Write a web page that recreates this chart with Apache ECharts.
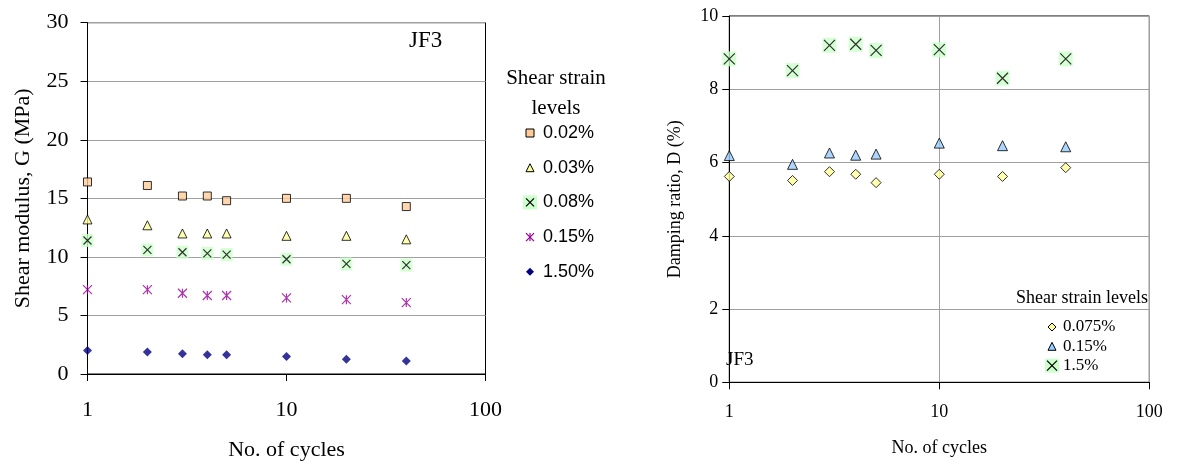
<!DOCTYPE html>
<html>
<head>
<meta charset="utf-8">
<script src="https://cdn.jsdelivr.net/npm/echarts@6/dist/echarts.min.js"></script>
<style>
  html, body { margin: 0; padding: 0; background: #fff; }
  #chart { width: 1185px; height: 466px; }
</style>
</head>
<body>
<div id="chart"></div>
<script>
// Number of loading cycles (log scale)
const cycles = [1, 2, 3, 4, 5, 10, 20, 40];

// Shear modulus G (MPa) per shear strain level, sample JF3
const gStrain002 = [16.4, 16.1, 15.2, 15.2, 14.8, 15.0, 15.0, 14.3];
const gStrain003 = [13.2, 12.7, 12.0, 12.0, 12.0, 11.8, 11.8, 11.5];
const gStrain008 = [11.4, 10.6, 10.4, 10.3, 10.2, 9.8, 9.4, 9.3];
const gStrain015 = [7.2, 7.2, 6.9, 6.7, 6.7, 6.5, 6.35, 6.1];
const gStrain150 = [2.0, 1.87, 1.73, 1.65, 1.65, 1.5, 1.25, 1.1];

// Damping ratio D (%) per shear strain level, sample JF3
const dStrain0075 = [5.62, 5.51, 5.75, 5.68, 5.45, 5.68, 5.62, 5.86];
const dStrain015 = [6.19, 5.95, 6.26, 6.2, 6.23, 6.53, 6.46, 6.43];
const dStrain15 = [8.83, 8.51, 9.2, 9.23, 9.06, 9.08, 8.3, 8.83];

// Axis ticks
const gTicks = { min: 0, max: 30, interval: 5 };
const dTicks = { min: 0, max: 10, interval: 2 };

// Legend labels
const gLegend = ['0.02%', '0.03%', '0.08%', '0.15%', '1.50%'];
const dLegend = ['0.075%', '0.15%', '1.5%'];

const SERIF = '"Liberation Serif", "Times New Roman", serif';
const SANS = '"Liberation Sans", Arial, sans-serif';
const C = {
  peach: '#FFCC99', yellow: '#FFFF99', green: '#CCFFCC',
  purple: '#990099', navy: '#000080', blue: '#99CCFF', grid: '#A0A0A0'
};
const X_PATH = 'path://M0,0L10,10M10,0L0,10';
const STAR_PATH = 'path://M0,0L10,10M10,0L0,10M5,0L5,10';

const pts = ys => cycles.map((c, i) => [c, ys[i]]);

function scatter(gi, data, symbol, size, style) {
  return {
    type: 'scatter', xAxisIndex: gi, yAxisIndex: gi, data: pts(data),
    symbol: symbol, symbolSize: size, itemStyle: style, silent: true,
    emphasis: { disabled: true }, z: 3
  };
}
const xMark = { color: 'transparent', borderColor: '#000', borderWidth: 1.2 };

function xAxis(gi, fs, labelGap, nameGap, vSplit) {
  return {
    type: 'log', logBase: 10, min: 1, max: 100, gridIndex: gi,
    name: 'No. of cycles', nameLocation: 'middle', nameGap: nameGap,
    nameTextStyle: { fontFamily: SERIF, fontSize: fs, color: '#000', verticalAlign: 'middle' },
    axisLine: { show: true, onZero: false, lineStyle: { color: '#000', width: 1 } },
    axisTick: { show: true, length: 7, lineStyle: { color: '#000' } },
    minorTick: { show: false },
    axisLabel: { fontFamily: SERIF, fontSize: fs, color: '#000', margin: labelGap, verticalAlign: 'middle' },
    splitLine: { show: vSplit, lineStyle: { color: C.grid, width: 1 } },
    minorSplitLine: { show: false }
  };
}
function yAxis(gi, ticks, name, fs, labelGap, nameGap) {
  return {
    type: 'value', gridIndex: gi, min: ticks.min, max: ticks.max, interval: ticks.interval,
    name: name, nameLocation: 'middle', nameGap: nameGap, nameRotate: 90,
    nameTextStyle: { fontFamily: SERIF, fontSize: fs, color: '#000', verticalAlign: 'middle' },
    axisLine: { show: true, lineStyle: { color: '#000', width: 1 } },
    axisTick: { show: true, length: 7, lineStyle: { color: '#000' } },
    axisLabel: { fontFamily: SERIF, fontSize: fs, color: '#000', margin: labelGap },
    splitLine: { show: true, lineStyle: { color: C.grid, width: 1 } }
  };
}

// Legend glyphs drawn as graphic shapes
function glyph(kind, cx, cy, s, bg) {
  const h = s / 2, out = [];
  if (bg) out.push({ type: 'rect', shape: { x: cx - bg[0] / 2, y: cy - bg[1] / 2, width: bg[0], height: bg[1] }, style: { fill: C.green } });
  if (kind === 'square') out.push({ type: 'rect', shape: { x: cx - h, y: cy - h, width: s, height: s }, style: { fill: C.peach, stroke: '#000', lineWidth: 1 } });
  if (kind === 'triangle') out.push({ type: 'polygon', shape: { points: [[cx, cy - h], [cx + h, cy + h], [cx - h, cy + h]] }, style: { fill: bg === 'blue' ? C.blue : C.yellow, stroke: '#000', lineWidth: 1 } });
  if (kind === 'triangleBlue') out.push({ type: 'polygon', shape: { points: [[cx, cy - h], [cx + h, cy + h], [cx - h, cy + h]] }, style: { fill: C.blue, stroke: '#000', lineWidth: 1 } });
  if (kind === 'diamond') out.push({ type: 'polygon', shape: { points: [[cx, cy - h], [cx + h, cy], [cx, cy + h], [cx - h, cy]] }, style: { fill: C.navy } });
  if (kind === 'diamondYellow') out.push({ type: 'polygon', shape: { points: [[cx, cy - h], [cx + h, cy], [cx, cy + h], [cx - h, cy]] }, style: { fill: C.yellow, stroke: '#000', lineWidth: 1 } });
  if (kind === 'x' || kind === 'star') {
    out.push({ type: 'line', shape: { x1: cx - h, y1: cy - h, x2: cx + h, y2: cy + h }, style: { stroke: kind === 'x' ? '#000' : C.purple, lineWidth: 1.2 } });
    out.push({ type: 'line', shape: { x1: cx + h, y1: cy - h, x2: cx - h, y2: cy + h }, style: { stroke: kind === 'x' ? '#000' : C.purple, lineWidth: 1.2 } });
    if (kind === 'star') out.push({ type: 'line', shape: { x1: cx, y1: cy - h, x2: cx, y2: cy + h }, style: { stroke: C.purple, lineWidth: 1.2 } });
  }
  return out;
}
function label(text, x, y, fs, family, align) {
  return { type: 'text', x: x, y: y, style: { text: text, fontFamily: family, fontSize: fs, fill: '#000', align: align || 'left', verticalAlign: 'middle' } };
}

const graphics = [];
// Left legend
graphics.push(label('Shear strain', 556, 78, 21, SERIF, 'center'));
graphics.push(label('levels', 556, 108, 21, SERIF, 'center'));
const gKinds = ['square', 'triangle', 'x', 'star', 'diamond'];
gKinds.forEach((k, i) => {
  const y = 133 + i * 34.7;
  graphics.push(...glyph(k, 530, y, 8, k === 'x' ? [14, 14] : null));
  graphics.push(label(gLegend[i], 543, y, 18, SANS));
});
graphics.push(label('JF3', 409, 41, 23, SERIF));
// Right legend
graphics.push(label('Shear strain levels', 1016, 298, 18, SERIF));
const dKinds = ['diamondYellow', 'triangleBlue', 'x'];
dKinds.forEach((k, i) => {
  const y = 327 + i * 19.3;
  graphics.push(...glyph(k, 1052, y, k === 'x' ? 10 : 8, k === 'x' ? [14, 14] : null));
  graphics.push(label(dLegend[i], 1063, y, 17, SERIF));
});
graphics.push(label('JF3', 726, 360, 19, SERIF));

const option = {
  animation: false,
  backgroundColor: '#fff',
  grid: [
    { left: 87.5, top: 22.7, width: 398, height: 353, show: true, borderColor: '#000', borderWidth: 1, backgroundColor: 'transparent' },
    { left: 729.3, top: 16, width: 420, height: 366.3, show: true, borderColor: '#000', borderWidth: 1, backgroundColor: 'transparent' }
  ],
  xAxis: [
    xAxis(0, 22, 36, 76, false),
    xAxis(1, 18, 30, 66, true)
  ],
  yAxis: [
    yAxis(0, gTicks, 'Shear modulus, G (MPa)', 22, 19, 64.5),
    yAxis(1, dTicks, 'Damping ratio, D (%)', 18, 11, 54)
  ],
  series: [
    scatter(0, gStrain002, 'rect', 8, { color: C.peach, borderColor: '#000', borderWidth: 1 }),
    scatter(0, gStrain003, 'triangle', 9, { color: C.yellow, borderColor: '#000', borderWidth: 1 }),
    scatter(0, gStrain008, 'rect', [12, 13], { color: C.green }),
    scatter(0, gStrain008, X_PATH, 8, xMark),
    scatter(0, gStrain015, STAR_PATH, 9, { color: 'transparent', borderColor: C.purple, borderWidth: 1.2 }),
    scatter(0, gStrain150, 'diamond', 9, { color: C.navy }),
    scatter(1, dStrain0075, 'diamond', 10, { color: C.yellow, borderColor: '#000', borderWidth: 1 }),
    scatter(1, dStrain015, 'triangle', 10, { color: C.blue, borderColor: '#000', borderWidth: 1 }),
    scatter(1, dStrain15, 'rect', [14, 15], { color: C.green }),
    scatter(1, dStrain15, X_PATH, 11, xMark)
  ],
  graphic: graphics
};

const chart = echarts.init(document.getElementById('chart'), null, { renderer: 'canvas' });
chart.setOption(option);
</script>
</body>
</html>
